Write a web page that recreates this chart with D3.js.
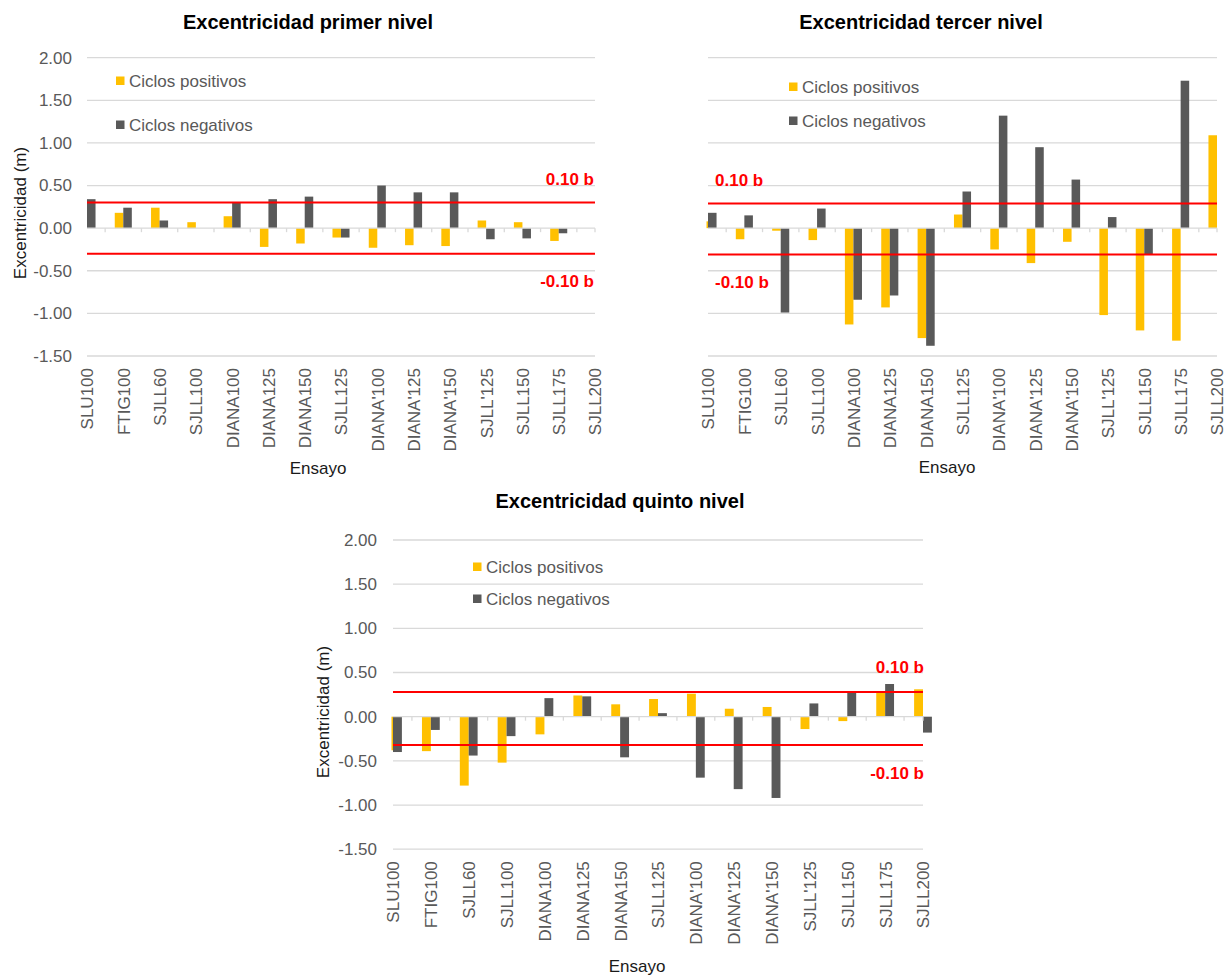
<!DOCTYPE html>
<html lang="es">
<head>
<meta charset="utf-8">
<title>Excentricidad por nivel</title>
<script src="https://cdn.jsdelivr.net/npm/d3@7/dist/d3.min.js"></script>
<style>
  html, body { margin: 0; padding: 0; background: #ffffff; }
  svg { display: block; font-family: "Liberation Sans", Arial, Helvetica, sans-serif; }
</style>
</head>
<body>
<svg id="chart" width="1228" height="979"></svg>
<script>
// Ensayos (categorías del eje X)
const categories = ["SLU100", "FTIG100", "SJLL60", "SJLL100", "DIANA100", "DIANA125", "DIANA150",
  "SJLL125", "DIANA'100", "DIANA'125", "DIANA'150", "SJLL'125", "SJLL150", "SJLL175", "SJLL200"];

// Valores del eje Y (m)
const yTicks = [2.0, 1.5, 1.0, 0.5, 0.0, -0.5, -1.0, -1.5];

// Nombres de las series
const seriesNames = ["Ciclos positivos", "Ciclos negativos"];

// Excentricidad primer nivel (m)
const primerPositivos = [0.00, 0.18, 0.24, 0.07, 0.14, -0.22, -0.18, -0.11, -0.23, -0.20, -0.21, 0.09, 0.07, -0.15, 0.00];
const primerNegativos = [0.34, 0.24, 0.09, 0.00, 0.30, 0.34, 0.37, -0.11, 0.50, 0.42, 0.42, -0.13, -0.12, -0.06, 0.00];
const primerLimites = [0.30, -0.30];

// Excentricidad tercer nivel (m)
const tercerPositivos = [0.08, -0.13, -0.03, -0.14, -1.13, -0.93, -1.29, 0.16, -0.25, -0.41, -0.16, -1.02, -1.20, -1.32, 1.09];
const tercerNegativos = [0.18, 0.15, -0.99, 0.23, -0.84, -0.79, -1.38, 0.43, 1.32, 0.95, 0.57, 0.13, -0.31, 1.73, 0.00];
const tercerLimites = [0.29, -0.31];

// Excentricidad quinto nivel (m)
const quintoPositivos = [-0.38, -0.39, -0.78, -0.52, -0.20, 0.24, 0.14, 0.20, 0.26, 0.09, 0.11, -0.14, -0.05, 0.28, 0.31];
const quintoNegativos = [-0.40, -0.15, -0.44, -0.22, 0.21, 0.23, -0.46, 0.04, -0.69, -0.82, -0.92, 0.15, 0.28, 0.37, -0.18];
const quintoLimites = [0.28, -0.32];

const limitLabels = ["0.10 b", "-0.10 b"];

const COLOR_POS = "#ffc000";
const COLOR_NEG = "#595959";
const GRID = "#d9d9d9";
const TEXT_GRAY = "#595959";
const RED = "#ff0000";

const svg = d3.select("#chart");
svg.append("rect").attr("width", 1228).attr("height", 979).attr("fill", "#fff");

// Layout of each panel
const panels = [
  {
    id: "p1", title: "Excentricidad primer nivel", pos: primerPositivos, neg: primerNegativos, limits: primerLimites,
    x0: 87, x1: 595, yTop: 57.7, yBottom: 356,
    titleX: 308, titleY: 29, yLabels: true, yLabelRight: 72, yTitleX: 20, yTitleY: 213,
    legendX: 116, legendY: 81, legendGap: 44,
    limitAnchor: "end", limitX: 594, limitY: [185, 287],
    xTitleX: 318, xTitleY: 474
  },
  {
    id: "p3", title: "Excentricidad tercer nivel", pos: tercerPositivos, neg: tercerNegativos, limits: tercerLimites,
    x0: 708, x1: 1217, yTop: 57.7, yBottom: 356,
    titleX: 921, titleY: 29, yLabels: false,
    legendX: 789, legendY: 87, legendGap: 34,
    limitAnchor: "start", limitX: 715, limitY: [186, 288],
    xTitleX: 947, xTitleY: 473
  },
  {
    id: "p5", title: "Excentricidad quinto nivel", pos: quintoPositivos, neg: quintoNegativos, limits: quintoLimites,
    x0: 393, x1: 923, yTop: 540, yBottom: 849.2,
    titleX: 620, titleY: 508, yLabels: true, yLabelRight: 377, yTitleX: 323, yTitleY: 712,
    legendX: 473, legendY: 567, legendGap: 32,
    limitAnchor: "end", limitX: 924, limitY: [673, 779],
    xTitleX: 637, xTitleY: 972
  }
];

panels.forEach(p => {
  const g = svg.append("g").attr("class", p.id);

  const x = d3.scalePoint().domain(categories).range([p.x0, p.x1]).padding(0);
  const y = d3.scaleLinear().domain([-1.5, 2.0]).range([p.yBottom, p.yTop]);
  const step = x.step();
  const bw = step * 0.235;

  // Title
  g.append("text")
    .attr("x", p.titleX).attr("y", p.titleY)
    .attr("text-anchor", "middle")
    .attr("font-size", 20).attr("font-weight", "bold").attr("fill", "#000")
    .text(p.title);

  // Horizontal gridlines
  g.append("g").selectAll("line").data(yTicks.filter(v => v !== 0)).join("line")
    .attr("x1", p.x0).attr("x2", p.x1)
    .attr("y1", d => y(d)).attr("y2", d => y(d))
    .attr("stroke", GRID).attr("stroke-width", 1.3);

  // Y axis labels (plain hyphen for negatives)
  if (p.yLabels) {
    const yAxis = d3.axisLeft(y).tickValues(yTicks).tickFormat(d => d.toFixed(2))
      .tickSize(0).tickPadding(p.x0 - p.yLabelRight);
    const ya = g.append("g").attr("transform", `translate(${p.x0},0)`).call(yAxis);
    ya.select(".domain").remove();
    ya.selectAll("text").attr("font-size", 17).attr("fill", TEXT_GRAY)
      .attr("font-family", "'Liberation Sans', Arial, sans-serif");

    g.append("text")
      .attr("transform", `translate(${p.yTitleX},${p.yTitleY}) rotate(-90)`)
      .attr("text-anchor", "middle").attr("dy", "0.35em")
      .attr("font-size", 17).attr("fill", "#1a1a1a")
      .text("Excentricidad (m)");
  }

  // Bars (first category sits on the left edge of the plot)
  const clipId = "clip-" + p.id;
  svg.append("defs").append("clipPath").attr("id", clipId)
    .append("rect").attr("x", p.x0 - 1.5).attr("y", 0).attr("width", 1228 - p.x0).attr("height", 979);

  const bars = g.append("g").attr("clip-path", `url(#${clipId})`);
  const rows = categories.map((c, i) => ({ c, pos: p.pos[i], neg: p.neg[i] }));
  bars.selectAll("rect.pos").data(rows).join("rect").attr("class", "pos")
    .attr("x", d => x(d.c) - bw).attr("width", bw)
    .attr("y", d => y(Math.max(0, d.pos))).attr("height", d => Math.abs(y(d.pos) - y(0)))
    .attr("fill", COLOR_POS);
  bars.selectAll("rect.neg").data(rows).join("rect").attr("class", "neg")
    .attr("x", d => x(d.c)).attr("width", bw)
    .attr("y", d => y(Math.max(0, d.neg))).attr("height", d => Math.abs(y(d.neg) - y(0)))
    .attr("fill", COLOR_NEG);

  // Zero line with minor ticks between categories
  g.append("line").attr("x1", p.x0).attr("x2", p.x1).attr("y1", y(0)).attr("y2", y(0))
    .attr("stroke", GRID).attr("stroke-width", 1.3);
  const tickXs = categories.slice(1).map(c => x(c) - step / 2).concat([p.x1]);
  g.append("g").selectAll("line").data(tickXs).join("line")
    .attr("x1", d => d).attr("x2", d => d).attr("y1", y(0)).attr("y2", y(0) + 4)
    .attr("stroke", GRID).attr("stroke-width", 1.3);

  // Category labels
  const xAxis = d3.axisBottom(x).tickSize(0);
  const xa = g.append("g").attr("transform", `translate(0,${p.yBottom})`).call(xAxis);
  xa.select(".domain").remove();
  xa.selectAll("text")
    .attr("transform", "rotate(-90)")
    .attr("text-anchor", "end")
    .attr("x", -12).attr("y", 0).attr("dy", "0.35em")
    .attr("font-size", 17).attr("fill", TEXT_GRAY)
    .attr("font-family", "'Liberation Sans', Arial, sans-serif");

  g.append("text")
    .attr("x", p.xTitleX).attr("y", p.xTitleY)
    .attr("text-anchor", "middle")
    .attr("font-size", 17).attr("fill", "#1a1a1a")
    .text("Ensayo");

  // ±0.10 b limit lines
  g.append("g").selectAll("line").data(p.limits).join("line")
    .attr("x1", p.x0).attr("x2", p.x1)
    .attr("y1", d => y(d)).attr("y2", d => y(d))
    .attr("stroke", RED).attr("stroke-width", 2);
  g.append("g").selectAll("text").data(limitLabels).join("text")
    .attr("x", p.limitX).attr("y", (d, i) => p.limitY[i])
    .attr("text-anchor", p.limitAnchor)
    .attr("font-size", 17).attr("font-weight", "bold").attr("fill", RED)
    .text(d => d);

  // Legend
  const colors = [COLOR_POS, COLOR_NEG];
  const lg = g.append("g").selectAll("g").data(seriesNames).join("g")
    .attr("transform", (d, i) => `translate(${p.legendX},${p.legendY + i * p.legendGap})`);
  lg.append("rect").attr("x", 0).attr("y", -4.5).attr("width", 8.5).attr("height", 8.5)
    .attr("fill", (d, i) => colors[i]);
  lg.append("text").attr("x", 13).attr("y", 0).attr("dy", "0.35em")
    .attr("font-size", 17).attr("fill", TEXT_GRAY)
    .text(d => d);
});
</script>
</body>
</html>
